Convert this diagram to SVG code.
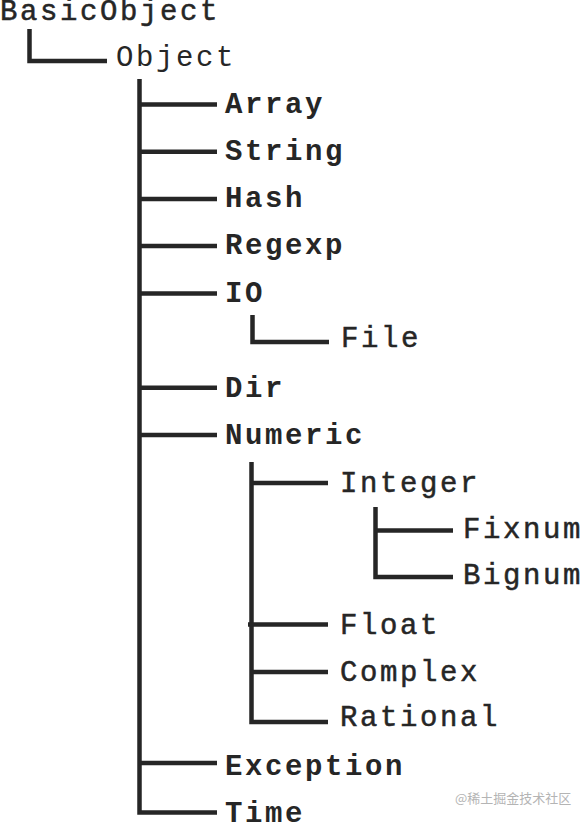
<svg xmlns="http://www.w3.org/2000/svg" width="585" height="824" viewBox="0 0 585 824">
<style>
text{font-family:"Liberation Mono","Courier New",monospace;font-size:29px;letter-spacing:2.6px;fill:#262626}
.b{font-weight:bold}
.m{stroke:#262626;stroke-width:0.5}
.wm{font-family:"Noto Sans CJK SC",sans-serif;font-size:13px;letter-spacing:0;fill:#b4b4b4}
#connectors path{fill:none;stroke:#262626;stroke-width:4.5;stroke-linecap:butt;stroke-linejoin:miter}
</style>
<rect width="585" height="824" fill="#ffffff"/>
<g id="connectors">
<path d="M29.5 29V61H107"/>
<path d="M139.5 79V812.5H217"/>
<path d="M139.5 104.5H217M139.5 151.7H217M139.5 198.9H217M139.5 246.1H217M139.5 293.5H217M139.5 387.7H217M139.5 435H217M139.5 763H217"/>
<path d="M252.5 315V342H329"/>
<path d="M251.5 462V722H328"/>
<path d="M251.5 483H328M248 624.5H328M251.5 672H328"/>
<path d="M375.5 507V577H453"/>
<path d="M375.5 530.5H453"/>
</g>
<g id="BasicObject"><text x="0" y="20" class="m">BasicObject</text></g>
<g id="Object"><text x="116" y="66">Object</text></g>
<g id="Array"><text x="225" y="113" class="b">Array</text></g>
<g id="String"><text x="225" y="160" class="b">String</text></g>
<g id="Hash"><text x="225" y="207" class="b">Hash</text></g>
<g id="Regexp"><text x="225" y="254" class="b">Regexp</text></g>
<g id="IO"><text x="225" y="302" class="b">IO</text></g>
<g id="File"><text x="341" y="347" class="m">File</text></g>
<g id="Dir"><text x="225" y="397" class="b">Dir</text></g>
<g id="Numeric"><text x="225" y="444" class="b">Numeric</text></g>
<g id="Integer"><text x="340" y="492" class="m">Integer</text></g>
<g id="Fixnum"><text x="463" y="538" class="m">Fixnum</text></g>
<g id="Bignum"><text x="463" y="584" class="m">Bignum</text></g>
<g id="Float"><text x="340" y="634" class="m">Float</text></g>
<g id="Complex"><text x="340" y="681" class="m">Complex</text></g>
<g id="Rational"><text x="340" y="726" class="m">Rational</text></g>
<g id="Exception"><text x="225" y="775" class="b">Exception</text></g>
<g id="Time"><text x="225" y="822" class="b">Time</text></g>
<text x="455" y="803" class="wm">@稀土掘金技术社区</text>
</svg>
